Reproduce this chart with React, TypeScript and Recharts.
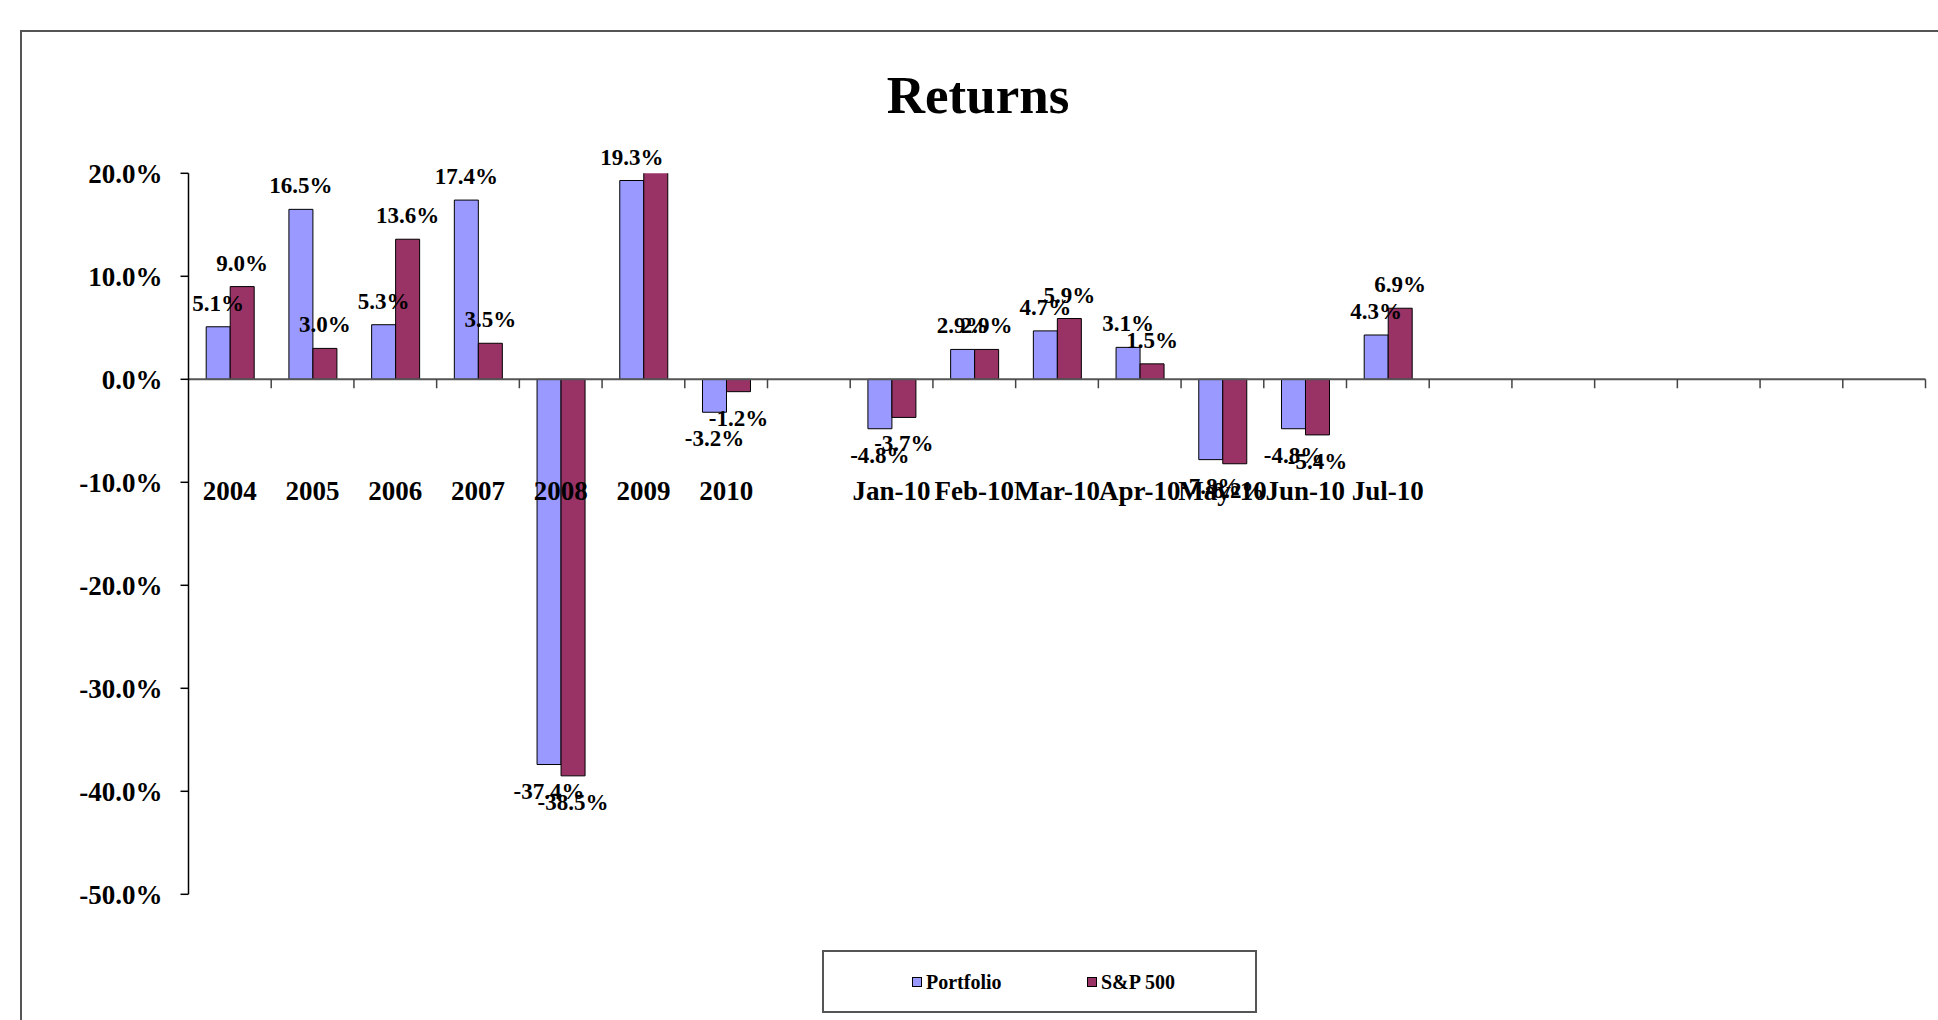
import React from 'react';
import { BarChart, Bar, XAxis, YAxis, ReferenceLine, LabelList } from 'recharts';

const categories = ['2004', '2005', '2006', '2007', '2008', '2009', '2010', '', 'Jan-10', 'Feb-10', 'Mar-10', 'Apr-10', 'May-10', 'Jun-10', 'Jul-10', '', '', '', '', '', ''];
const portfolioReturns = [5.1, 16.5, 5.3, 17.4, -37.4, 19.3, -3.2, null, -4.8, 2.9, 4.7, 3.1, -7.8, -4.8, 4.3, null, null, null, null, null, null];
const sp500Returns = [9.0, 3.0, 13.6, 3.5, -38.5, 23.5, -1.2, null, -3.7, 2.9, 5.9, 1.5, -8.2, -5.4, 6.9, null, null, null, null, null, null];
const yTicks = [20, 10, 0, -10, -20, -30, -40, -50];
const seriesNames = ['Portfolio', 'S&P 500'];
const seriesColors = ['#9999FF', '#993366'];
const title = 'Returns';

const Y_MIN = Math.min(...yTicks);
const Y_MAX = Math.max(...yTicks);
const FONT = '"Liberation Serif", "Times New Roman", serif';

const data = categories.map((c, i) => ({
  slot: i,
  category: c,
  portfolio: portfolioReturns[i],
  sp500: sp500Returns[i],
}));

const fmt = (v: number) => `${v.toFixed(1)}%`;

const BarValueLabel = (props: any) => {
  const vb = props.viewBox || props;
  const { x, y, width, height } = vb;
  const value = props.value;
  if (value === null || value === undefined || value > Y_MAX || value < Y_MIN) return null;
  const top = Math.min(y, y + height);
  const bottom = Math.max(y, y + height);
  const cx = x + width / 2;
  const ty = value >= 0 ? top - 16 : bottom + 34;
  return (
    <text x={cx} y={ty} textAnchor="middle" fontFamily={FONT} fontWeight="bold" fontSize={23} fill="#000">
      {fmt(value)}
    </text>
  );
};

const CATEGORY_LABEL_SHIFT = -394.3;

const CategoryTick = (props: any) => {
  const { x, y, payload } = props;
  const label = payload ? categories[payload.value] : '';
  if (!label) return null;
  return (
    <text x={x} y={y + CATEGORY_LABEL_SHIFT} textAnchor="middle" fontFamily={FONT} fontWeight="bold" fontSize={27} fill="#000">
      {label}
    </text>
  );
};

export default function App() {
  return (
    <div style={{ position: 'absolute', left: 0, top: 0, width: 1938, height: 1020, overflow: 'hidden', background: '#fff' }}>
      <div style={{ position: 'absolute', left: 20, top: 30, width: 1960, height: 1040, border: '2px solid #555', boxSizing: 'border-box' }} />
      <div style={{ position: 'absolute', left: 0, top: 68.6, width: 1956, textAlign: 'center', fontFamily: FONT, fontWeight: 'bold', fontSize: 53, lineHeight: '53px', color: '#000' }}>
        {title}
      </div>
      <div style={{ position: 'absolute', left: 0, top: 0 }}>
        <BarChart
          width={1938}
          height={1020}
          data={data}
          margin={{ top: 173.3, right: 12.5, bottom: 95.7, left: 0 }}
          barCategoryGap="21.4%"
          barGap={0}
        >
          <XAxis
            dataKey="slot"
            height={30}
            interval={0}
            axisLine={false}
            tickLine={false}
            tickSize={0}
            tickMargin={0}
            tick={<CategoryTick />}
          />
          <YAxis
            width={188.5}
            domain={[Y_MIN, Y_MAX]}
            ticks={yTicks}
            interval={0}
            allowDataOverflow
            tickFormatter={fmt}
            axisLine={{ stroke: '#000', strokeWidth: 1.5 }}
            tickLine={{ stroke: '#000', strokeWidth: 1.5 }}
            tickSize={8}
            tickMargin={18}
            tick={{ fontFamily: FONT, fontWeight: 'bold', fontSize: 27, fill: '#000' }}
          />
          <Bar dataKey="portfolio" name={seriesNames[0]} fill={seriesColors[0]} stroke="#000" strokeWidth={1} isAnimationActive={false}>
            <LabelList dataKey="portfolio" content={<BarValueLabel />} />
          </Bar>
          <Bar dataKey="sp500" name={seriesNames[1]} fill={seriesColors[1]} stroke="#000" strokeWidth={1} isAnimationActive={false}>
            <LabelList dataKey="sp500" content={<BarValueLabel />} />
          </Bar>
          <ReferenceLine y={0} stroke="#555" strokeWidth={2} />
          {data.map((d) => (
            <ReferenceLine
              key={d.slot}
              position="end"
              segment={[{ x: d.slot, y: 0 }, { x: d.slot, y: -0.87 }]}
              stroke="#444"
              strokeWidth={1.5}
            />
          ))}
        </BarChart>
      </div>
      <div style={{ position: 'absolute', left: 822, top: 950, width: 435, height: 63, border: '2px solid #555', boxSizing: 'border-box', background: '#fff' }}>
        {seriesNames.map((name, i) => (
          <div key={name} style={{ position: 'absolute', left: [88, 263][i], top: 18, display: 'flex', alignItems: 'center', fontFamily: FONT, fontWeight: 'bold', fontSize: 20, lineHeight: '24px', color: '#000' }}>
            <span style={{ display: 'inline-block', width: 10, height: 10, background: seriesColors[i], border: '1px solid #000', boxSizing: 'border-box', marginRight: 4 }} />
            <span>{name}</span>
          </div>
        ))}
      </div>
    </div>
  );
}
